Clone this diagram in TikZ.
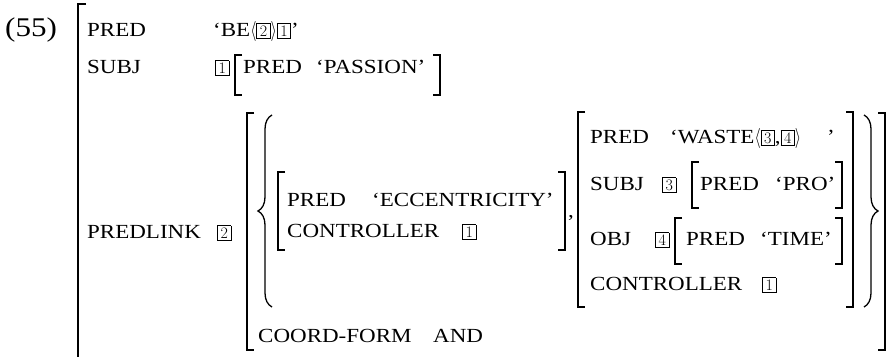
\documentclass[tikz,border=0pt]{standalone}
\usepackage{fontspec}
\usepackage{graphicx}
\usepackage{tikz}
\usetikzlibrary{positioning, decorations.pathreplacing}

\newfontfamily\avmfont[FakeStretch=1.15]{Liberation Serif}
% boxed index
\newcommand{\tbox}[1]{{\setlength{\fboxsep}{1.5pt}\setlength{\fboxrule}{0.6pt}%
  \fbox{\rule[-0.8pt]{0pt}{11.5pt}\makebox[10pt]{\rmfamily\fontsize{16}{16}\selectfont#1}}}}
% angle bracket
\newcommand{\ang}[1]{\scalebox{1.6}[2]{\fontsize{10}{12}\selectfont$#1$}}

\begin{document}
\begin{tikzpicture}[
  x=1pt, y=-1pt,
  font=\avmfont\fontsize{20}{24}\selectfont,
  attr/.style={anchor=base west, inner sep=0pt},
  brak/.style={line width=1.1pt},
  accolade/.style={decorate, decoration={brace, amplitude=14pt}, line width=1.3pt}
]
  \useasboundingbox (0,0) rectangle (893,356);

  % Numero de l'exemple
  \node[attr, font=\avmfont\fontsize{27}{30}\selectfont] (ex) at (5,36) {(55)};

  % Ligne PRED et SUBJ
  \node[attr] (pred) at (87,36) {PRED};
  \node[attr] (predv) at (213,36) {‘BE\ang{\langle}\tbox{2}\ang{\rangle}\tbox{1}’};
  \node[attr] (subj) at (87,73) {SUBJ};
  \node[attr] (subjtag) at (215,73) {\tbox{1}};
  \node[attr] (subjpred) at (243,73) {PRED};
  \node[attr] (passion) at (316,73) {‘PASSION’};

  % Ligne PREDLINK
  \node[attr] (predlink) at (87,238) {PREDLINK};
  \node[attr] (linktag) at (217,238) {\tbox{2}};

  % Premier conjoint
  \node[attr] (eccpred) at (287,206) {PRED};
  \node[attr] (ecc) at (372,206) {‘ECCENTRICITY’};
  \node[attr] (ctrla) at (287,237) {CONTROLLER};
  \node[attr] (ctrlatag) at (462,237) {\tbox{1}};
  \node[attr] (comma) at (568,217) {,};

  % Second conjoint
  \node[attr] (wpred) at (590,143) {PRED};
  \node[attr] (waste) at (670,143) {‘WASTE\ang{\langle}\tbox{3},\tbox{4}\ang{\rangle}\hspace{26pt}’};
  \node[attr] (wsubj) at (590,190) {SUBJ};
  \node[attr] (tagc) at (662,190) {\tbox{3}};
  \node[attr] (propred) at (700,190) {PRED};
  \node[attr] (pro) at (775,190) {‘PRO’};
  \node[attr] (wobj) at (590,245) {OBJ};
  \node[attr] (tagd) at (655,245) {\tbox{4}};
  \node[attr] (timepred) at (686,245) {PRED};
  \node[attr] (time) at (760,245) {‘TIME’};
  \node[attr] (ctrlb) at (590,290) {CONTROLLER};
  \node[attr] (ctrlbtag) at (762,290) {\tbox{1}};

  % COORD-FORM
  \node[attr] (coord) at (258,342) {COORD-FORM};
  \node[attr] (and) at (433,342) {AND};

  % Crochets
  \draw[brak] (86,4) -- (78,4) -- (78,370);
  \foreach \xl/\xr/\yt/\yb in {235/440/55/95, 247/885/113/350, 278/565/172/250,
                               578/853/112/307, 692/842/162/208, 675/842/218/264} {
    \draw[brak] (\xl+7,\yt) -- (\xl,\yt) -- (\xl,\yb) -- (\xl+7,\yb);
    \draw[brak] (\xr-7,\yt) -- (\xr,\yt) -- (\xr,\yb) -- (\xr-7,\yb);
  }

  % Accolades
  \draw[accolade] (272,307) -- (272,115);
  \draw[accolade] (864,115) -- (864,307);
\end{tikzpicture}
\end{document}
